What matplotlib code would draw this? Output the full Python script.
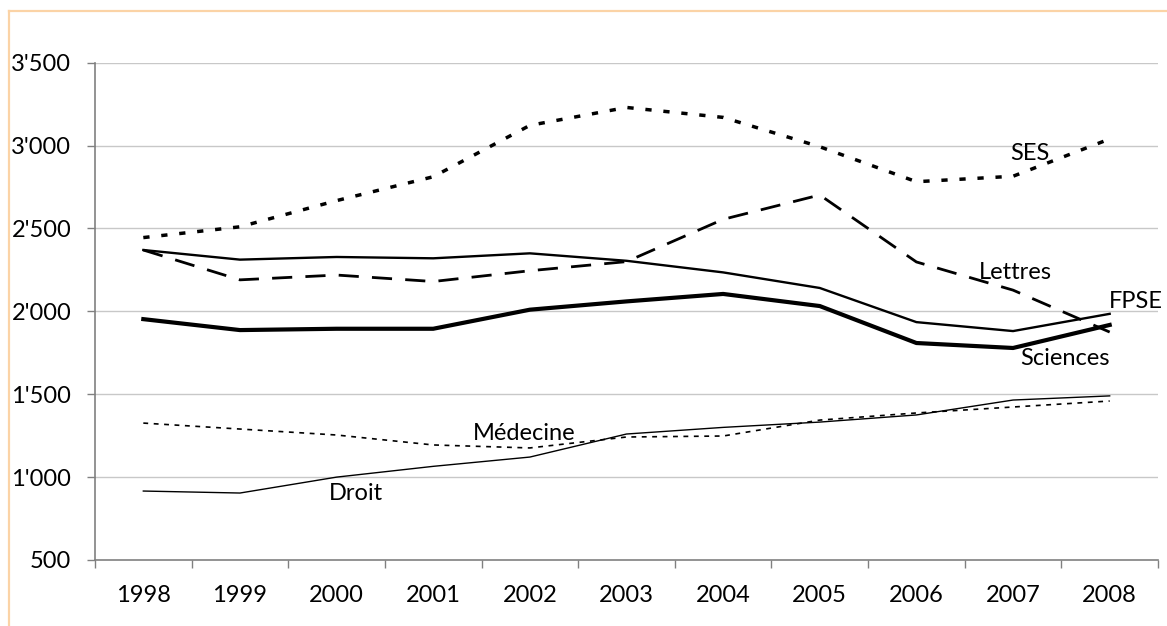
import numpy as np
import matplotlib.pyplot as plt
from matplotlib.lines import Line2D
from matplotlib.ticker import FixedLocator, FuncFormatter

plt.rcParams['font.family'] = ['Lato', 'DejaVu Sans']
plt.rcParams['lines.scale_dashes'] = False

years = ['1998', '1999', '2000', '2001', '2002', '2003', '2004', '2005', '2006', '2007', '2008']
ses = [2445, 2510, 2668, 2812, 3122, 3230, 3170, 2993, 2782, 2815, 3040]
lettres = [2370, 2190, 2219, 2180, 2245, 2300, 2555, 2702, 2298, 2128, 1875]
fpse = [2370, 2312, 2328, 2320, 2350, 2305, 2235, 2141, 1935, 1881, 1985]
sciences = [1953, 1887, 1895, 1895, 2010, 2060, 2105, 2032, 1809, 1779, 1918]
medecine = [1326, 1290, 1254, 1194, 1176, 1242, 1248, 1344, 1387, 1423, 1459]
droit = [916, 904, 1000, 1065, 1121, 1260, 1300, 1332, 1375, 1465, 1490]

y_ticks = [500, 1000, 1500, 2000, 2500, 3000, 3500]

fig = plt.figure(figsize=(11.67, 6.26), dpi=100)
ax = fig.add_axes([95/1167, 1 - 560/626, (1158 - 95)/1167, (560 - 62.7)/626])

x = np.arange(len(years))

# grid first
for v in y_ticks[1:]:
    ax.axhline(v, color='#c8c8c8', lw=1.0, zorder=0)

ax.plot(x, ses, color='black', lw=2.5, dashes=(4.5, 8.5), dash_capstyle='butt')
ax.plot(x, lettres, color='black', lw=2.0, dashes=(14.5, 9.5), dash_capstyle='butt')
ax.plot(x, fpse, color='black', lw=1.7)
ax.plot(x, sciences, color='black', lw=3.0)
ax.plot(x, medecine, color='black', lw=1.2, dashes=(3.5, 4.0), dash_capstyle='butt')
ax.plot(x, droit, color='black', lw=1.0)

fs = 17
ax.text(9.17, 2955, 'SES', fontsize=fs, ha='center', va='center')
ax.text(9.02, 2237, 'Lettres', fontsize=fs, ha='center', va='center')
ax.text(10.55, 2062, 'FPSE', fontsize=fs, ha='right', va='center')
ax.text(9.54, 1718, 'Sciences', fontsize=fs, ha='center', va='center')
ax.text(3.94, 1266, 'Médecine', fontsize=fs, ha='center', va='center')
ax.text(2.20, 904, 'Droit', fontsize=fs, ha='center', va='center')

ax.set_xlim(-0.5, len(years) - 0.5)
ax.set_ylim(500, 3500)

ax.xaxis.set_major_locator(FixedLocator(np.arange(-0.5, len(years), 1.0)))
ax.xaxis.set_major_formatter(FuncFormatter(lambda v, p: ''))
ax.xaxis.set_minor_locator(FixedLocator(x))
ax.set_xticklabels(years, minor=True)
ax.tick_params(axis='x', which='major', direction='out', length=6, width=1, color='#808080')
ax.tick_params(axis='x', which='minor', length=0, pad=18, labelsize=fs)

ax.set_yticks(y_ticks)
ax.set_yticklabels([f"{v // 1000}'{v % 1000:03d}" if v >= 1000 else str(v) for v in y_ticks])
ax.tick_params(axis='y', direction='out', length=6, width=1, color='#808080', pad=11, labelsize=fs)

for s in ['top', 'right']:
    ax.spines[s].set_visible(False)
for s in ['left', 'bottom']:
    ax.spines[s].set_color('#808080')
    ax.spines[s].set_linewidth(1.2)

# orange frame around the chart
fig.add_artist(Line2D([9/1167, 9/1167], [0, 1 - 11/626], color='#fbd3a6', lw=1.6))
fig.add_artist(Line2D([9/1167, 1], [1 - 11/626, 1 - 11/626], color='#fbd3a6', lw=1.6))

fig.savefig('out.png', dpi=100)
